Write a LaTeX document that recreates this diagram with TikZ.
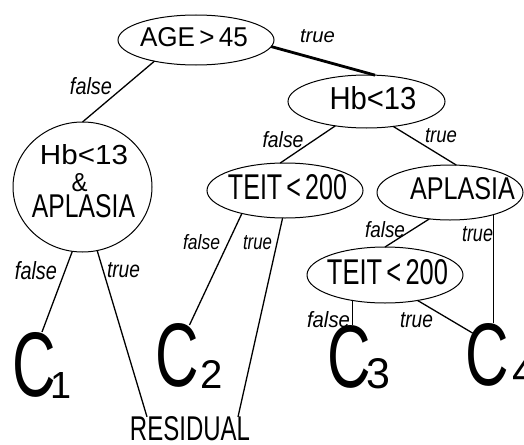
\documentclass[tikz,border=0pt]{standalone}
\usepackage{fontspec}
\setmainfont{Liberation Sans}
\usepackage{graphicx}
\usetikzlibrary{shapes.geometric}
\newcommand\fitbox[3]{\resizebox{#1pt}{#2pt}{#3}}
\newcommand\hgtbox[2]{\resizebox{!}{#1pt}{#2}}
\begin{document}
\begin{tikzpicture}[x=1pt,y=-1pt,
  ell/.style={draw,ellipse,inner sep=0pt,outer sep=0pt,line width=1pt},
  txt/.style={inner sep=0pt,outer sep=0pt},
  lbl/.style={inner sep=0pt,outer sep=0pt,font=\itshape},
  link/.style={line width=1.3pt},
  boldlink/.style={line width=2.8pt}]
\useasboundingbox (0,0) rectangle (524,444);

% decision ellipses
\node[ell,minimum width=156pt,minimum height=50pt] (age) at (196,40) {};
\node[ell,minimum width=157pt,minimum height=53pt] (hbr) at (366.5,101.5) {};
\node[ell,minimum width=139pt,minimum height=130pt] (circ) at (82.5,187) {};
\node[ell,minimum width=156pt,minimum height=55pt] (teitl) at (285,190.5) {};
\node[ell,minimum width=146pt,minimum height=55pt] (apl) at (450,192.5) {};
\node[ell,minimum width=156pt,minimum height=56pt] (teitb) at (385,275) {};

% texts in ellipses
\node[txt] (agetxt) at (194,37.5) {\fitbox{108}{19}{AGE\,>\,45}};
\node[txt] (hbrtxt) at (373,98.5) {\fitbox{87}{23}{Hb<13}};
\node[txt] (circa) at (84,155) {\fitbox{88}{20}{Hb<13}};
\node[txt] (circb) at (79.5,183) {\fitbox{16}{18}{\&}};
\node[txt] (circc) at (83.5,206.5) {\fitbox{103}{23}{APLASIA}};
\node[txt] (teitltxt) at (287.5,187.5) {\fitbox{119}{25}{TEIT\,<\,200}};
\node[txt] (apltxt) at (462.5,189) {\fitbox{105}{22}{APLASIA}};
\node[txt] (teitbtxt) at (387.5,272.5) {\fitbox{121}{25}{TEIT\,<\,200}};

% leaves
\node[txt,anchor=north] (c1) at (34,332) {\fitbox{43.5}{64}{C}};
\node[txt,anchor=north] (c1s) at (61,372) {\hgtbox{26}{1}};
\node[txt,anchor=north] (c2) at (177.5,323) {\fitbox{43.5}{63}{C}};
\node[txt,anchor=north] (c2s) at (211.5,360) {\hgtbox{28}{2}};
\node[txt,anchor=north] (c3) at (349,325) {\fitbox{43.5}{62}{C}};
\node[txt,anchor=north] (c3s) at (378.5,358) {\hgtbox{30}{3}};
\node[txt,anchor=north] (c4) at (487.5,323) {\fitbox{43.5}{62}{C}};
\node[txt,anchor=north] (c4s) at (524.5,356) {\hgtbox{30}{4}};
\node[txt] (res) at (190,429) {\fitbox{120}{24}{RESIDUAL}};

% connectors
\draw[link] (age.207) -- (circ.90);
\draw[boldlink] (age.-5) -- (hbr.72);
\draw[link] (hbr.218) -- (teitl.100);
\draw[link] (hbr.-43) -- (apl.77);
\draw[link] (circ.-99) -- ([xshift=8pt]c1.north);
\draw[link] (circ.-77) -- ([xshift=17pt]res.north west);
\draw[link] (teitl.208) -- ([xshift=12pt,yshift=-2pt]c2.north);
\draw[link] (teitl.-95) -- ([xshift=-12pt]res.north east);
\draw[link] (apl.232) -- (teitb.90);
\draw[link] (apl.-27.3) -- (apl.-27.3 |- c4.north);
\draw[link] (teitb.-142.4) -- (teitb.-142.4 |- c3.north);
\draw[link] (teitb.-38.6) -- ([xshift=-15pt,yshift=-10pt]c4.north);

% branch labels
\node[lbl] (l1) at (91,86.5) {\fitbox{42}{17}{false}};
\node[lbl] (l2) at (317.5,36.5) {\fitbox{35}{13}{true}};
\node[lbl] (l3) at (283,140) {\fitbox{41}{16}{false}};
\node[lbl] (l4) at (441,135.5) {\fitbox{32}{14}{true}};
\node[lbl] (l5) at (36,271) {\fitbox{42}{18}{false}};
\node[lbl] (l6) at (123.5,270.5) {\fitbox{33}{15}{true}};
\node[lbl] (l7) at (201.5,242.5) {\fitbox{37}{15}{false}};
\node[lbl] (l8) at (257.5,243) {\fitbox{29}{14}{true}};
\node[lbl] (l9) at (385,230) {\fitbox{40}{16}{false}};
\node[lbl] (l10) at (477.5,234.5) {\fitbox{31}{15}{true}};
\node[lbl] (l11) at (328.5,320) {\fitbox{43}{16}{false}};
\node[lbl] (l12) at (416.5,320.5) {\fitbox{33}{15}{true}};
\end{tikzpicture}
\end{document}
